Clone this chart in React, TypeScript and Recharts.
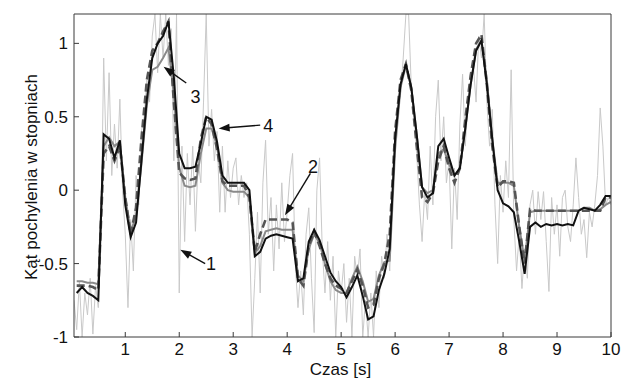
import React from 'react';
import { LineChart, Line, XAxis, YAxis, ReferenceLine, ReferenceDot } from 'recharts';

const xTicks = [1, 2, 3, 4, 5, 6, 7, 8, 9, 10];
const yTicks = [-1, -0.5, 0, 0.5, 1];
const xLabel = 'Czas [s]';
const yLabel = 'Kąt pochylenia w stopniach';

// sample grids (s)
const smoothTimes = Array.from({ length: 100 }, (_, i) => +((i + 1) * 0.1).toFixed(2));
const rawTimes = Array.from({ length: 200 }, (_, i) => +((i + 1) * 0.05).toFixed(2));

// 1 – raw measurement (light grey, noisy)
const raw = [
  -0.75, -0.95, -0.62, -1.0, -0.70, -0.85, -0.60, -0.98, -0.65, -0.80,
  -0.30, 0.90, 0.20, 0.80, 0.10, 0.45, 0.15, 0.62, 0.00, -0.30,
  -0.80, -0.20, -0.55, 0.10, -0.10, 0.40, 0.50, 0.75, 0.60, 1.05,
  1.20, 0.80, 1.20, 0.90, 1.20, 0.85, 1.10, 0.20, 1.20, -0.70,
  0.30, -0.35, 0.25, -0.10, 0.30, -0.28, 0.20, 0.05, 0.60, 1.20,
  0.30, 0.55, 0.20, 0.40, -0.15, 0.30, -0.15, 0.20, -0.05, 0.15,
  0.22, -0.10, 0.10, -0.05, 0.05, -0.30, -1.00, -0.60, -0.15, -0.70,
  0.05, 0.34, -0.30, -0.05, -0.55, -0.10, -0.40, 0.05, -0.35, -0.15,
  0.10, 0.25, -0.50, -0.80, -0.55, -0.85, -0.30, -0.12, -0.60, -0.97,
  0.00, 0.22, -0.40, -0.70, -0.35, -0.75, -0.45, -1.00, -0.55, -0.70,
  -0.50, -0.90, -0.60, -1.00, -0.45, -0.60, -0.40, -1.00, -0.75, -1.00,
  -0.70, -1.00, -0.55, -0.80, -0.45, -0.60, -0.30, -0.55, -0.05, 0.30,
  0.55, 0.65, 0.90, 1.20, 1.20, 0.70, 0.50, 0.25, -0.10, -0.35,
  0.00, -0.20, 0.30, -0.10, 0.50, 0.75, 0.20, 0.50, 0.05, 0.20,
  -0.40, 0.15, -0.20, 0.45, 0.79, 0.30, 0.60, 0.75, 0.85, 0.60,
  1.05, 0.90, 1.20, 0.60, 0.30, 0.55, -0.10, -0.50, 0.10, -0.15,
  0.20, -0.05, 0.82, -0.20, -0.55, -0.30, -0.67, -0.40, -0.60, -0.10,
  0.00, -0.30, -0.01, -0.20, -0.01, -0.35, -0.69, -0.05, -0.30, -0.10,
  -0.45, -0.05, 0.00, -0.25, -0.35, -0.10, 0.22, -0.05, -0.30, -0.20,
  -0.46, -0.15, -0.25, -0.10, 0.10, 0.56, 0.30, -0.10, -0.05, -0.10,
];

// 2 – dashed dark grey
const series2 = [
  -0.65, -0.65, -0.65, -0.66, -0.68, 0.25, 0.30, 0.20, 0.30, -0.05,
  -0.30, -0.12, 0.35, 0.75, 0.95, 1.00, 1.08, 1.15, 0.60, 0.12,
  0.08, 0.07, 0.08, 0.35, 0.50, 0.45, 0.28, 0.06, 0.03, 0.03,
  0.03, 0.03, -0.05, -0.42, -0.30, -0.20, -0.20, -0.20, -0.20, -0.20,
  -0.22, -0.60, -0.65, -0.38, -0.28, -0.38, -0.50, -0.60, -0.65, -0.67,
  -0.70, -0.62, -0.54, -0.65, -0.80, -0.78, -0.60, -0.50, -0.30, 0.40,
  0.75, 0.86, 0.68, 0.30, -0.05, -0.08, -0.02, 0.20, 0.30, 0.15,
  0.05, 0.15, 0.48, 0.78, 1.00, 1.06, 0.72, 0.30, 0.02, 0.06,
  0.06, 0.05, -0.25, -0.50, -0.13, -0.14, -0.14, -0.14, -0.14, -0.14,
  -0.14, -0.14, -0.14, -0.14, -0.14, -0.14, -0.14, -0.14, -0.05, -0.05,
];

// 3 – solid medium grey
const series3 = [
  -0.62, -0.62, -0.63, -0.63, -0.64, 0.30, 0.36, 0.30, 0.33, -0.05,
  -0.28, -0.18, 0.18, 0.58, 0.82, 0.84, 0.90, 0.97, 0.65, 0.15,
  0.03, 0.02, 0.03, 0.25, 0.42, 0.42, 0.30, 0.05, 0.00, -0.01,
  -0.01, -0.01, -0.05, -0.43, -0.38, -0.28, -0.27, -0.26, -0.27, -0.27,
  -0.27, -0.58, -0.62, -0.40, -0.30, -0.36, -0.50, -0.62, -0.68, -0.70,
  -0.70, -0.60, -0.52, -0.62, -0.76, -0.74, -0.58, -0.49, -0.48, 0.28,
  0.70, 0.85, 0.70, 0.38, 0.02, -0.02, 0.00, 0.25, 0.28, 0.18,
  0.10, 0.15, 0.42, 0.72, 0.96, 1.02, 0.75, 0.35, 0.05, 0.05,
  0.05, 0.03, -0.25, -0.48, -0.15, -0.14, -0.14, -0.14, -0.14, -0.14,
  -0.14, -0.14, -0.14, -0.14, -0.12, -0.12, -0.14, -0.13, -0.10, -0.08,
];

// 4 – solid black
const series4 = [
  -0.70, -0.66, -0.70, -0.72, -0.75, 0.38, 0.35, 0.22, 0.34, -0.10,
  -0.32, -0.22, 0.20, 0.62, 0.90, 1.00, 1.05, 1.15, 0.77, 0.25,
  0.15, 0.15, 0.16, 0.32, 0.50, 0.48, 0.33, 0.10, 0.05, 0.05,
  0.05, 0.05, 0.00, -0.45, -0.42, -0.33, -0.31, -0.30, -0.31, -0.32,
  -0.33, -0.62, -0.60, -0.35, -0.27, -0.34, -0.45, -0.56, -0.62, -0.66,
  -0.73, -0.66, -0.58, -0.72, -0.88, -0.86, -0.68, -0.57, -0.40, 0.35,
  0.72, 0.86, 0.70, 0.38, 0.02, -0.05, -0.02, 0.30, 0.35, 0.22,
  0.10, 0.15, 0.42, 0.72, 0.95, 1.02, 0.72, 0.35, 0.00, -0.09,
  -0.11, -0.15, -0.35, -0.57, -0.25, -0.22, -0.25, -0.23, -0.24, -0.23,
  -0.24, -0.23, -0.24, -0.14, -0.12, -0.13, -0.14, -0.10, -0.04, -0.04,
];

// annotation arrows: label, tail (t, value), tip (t, value), label position (t, value)
const annLabels = ['1', '2', '3', '4'];
const annTail = [[2.48, -0.5], [4.43, 0.114], [2.13, 0.73], [3.5, 0.443]];
const annTip = [[2.02, -0.406], [3.96, -0.17], [1.71, 0.84], [2.73, 0.42]];
const annText = [[2.59, -0.504], [4.48, 0.157], [2.3, 0.637], [3.65, 0.436]];

const rows = (times: number[], values: number[]) => times.map((t, i) => ({ t, v: values[i] }));
const rawData = rows(rawTimes, raw);
const data2 = rows(smoothTimes, series2);
const data3 = rows(smoothTimes, series3);
const data4 = rows(smoothTimes, series4);

const FONT = '"Liberation Sans", Arial, Helvetica, sans-serif';
const AXIS = '#3a3a3a';
const tickStyle = { fill: '#111', fontSize: 17, fontFamily: FONT };

const Arrow = (props: any) => {
  const { x1, y1, x2, y2 } = props;
  const dx = x2 - x1;
  const dy = y2 - y1;
  const len = Math.hypot(dx, dy) || 1;
  const ux = dx / len;
  const uy = dy / len;
  const L = 11;
  const W = 4;
  const bx = x2 - ux * L;
  const by = y2 - uy * L;
  const pts = `${x2},${y2} ${bx - uy * W},${by + ux * W} ${bx + uy * W},${by - ux * W}`;
  return (
    <g>
      <line x1={x1} y1={y1} x2={bx + ux * 2} y2={by + uy * 2} stroke="#111" strokeWidth={1.4} />
      <polygon points={pts} fill="#111" />
    </g>
  );
};

const makeText = (label: string) => (props: any) => (
  <text
    x={props.cx}
    y={props.cy}
    textAnchor="middle"
    dominantBaseline="central"
    fontSize={18}
    fontFamily={FONT}
    fill="#111"
  >
    {label}
  </text>
);

export default function App() {
  return (
    <div style={{ position: 'absolute', left: 0, top: 0, width: 630, height: 379, background: '#fff' }}>
      <LineChart width={630} height={379} margin={{ top: 13, right: 18, bottom: 0, left: 0 }}>
        <XAxis
          dataKey="t"
          type="number"
          domain={[0.05, 10]}
          allowDataOverflow
          ticks={xTicks}
          height={42}
          tickSize={-5}
          tickMargin={11}
          tick={tickStyle}
          stroke={AXIS}
          tickLine={{ stroke: AXIS }}
          axisLine={{ stroke: AXIS }}
          label={{
            value: xLabel,
            content: (p: any) => {
              const vb = p.viewBox || { x: 74, width: 537, y: 337, height: 42 };
              return (
                <text
                  x={vb.x + vb.width / 2 - 2}
                  y={vb.y + vb.height - 4}
                  textAnchor="middle"
                  fontSize={17}
                  fontFamily={FONT}
                  fill="#111"
                >
                  {xLabel}
                </text>
              );
            },
          }}
        />
        <XAxis
          xAxisId="top"
          dataKey="t"
          orientation="top"
          type="number"
          domain={[0.05, 10]}
          allowDataOverflow
          ticks={xTicks}
          height={1}
          tickSize={-5}
          tick={false}
          stroke={AXIS}
          tickLine={{ stroke: AXIS }}
          axisLine={{ stroke: AXIS }}
        />
        <YAxis
          type="number"
          domain={[-1, 1.2]}
          allowDataOverflow
          ticks={yTicks}
          width={74}
          tickSize={-5}
          tickMargin={11}
          tick={tickStyle}
          stroke={AXIS}
          tickLine={{ stroke: AXIS }}
          axisLine={{ stroke: AXIS }}
          label={{
            value: yLabel,
            content: () => (
              <text
                x={37}
                y={177}
                transform="rotate(-90 37 177)"
                textAnchor="middle"
                fontSize={17}
                fontFamily={FONT}
                fill="#111"
              >
                {yLabel}
              </text>
            ),
          }}
        />
        <YAxis
          yAxisId="right"
          orientation="right"
          type="number"
          domain={[-1, 1.2]}
          allowDataOverflow
          ticks={yTicks}
          width={1}
          tickSize={-5}
          tick={false}
          stroke={AXIS}
          tickLine={{ stroke: AXIS }}
          axisLine={{ stroke: AXIS }}
        />
        {/* invisible series bound to the frame axes so that they are drawn */}
        <Line data={data4} xAxisId="top" yAxisId="right" dataKey="v" stroke="none" dot={false} activeDot={false} legendType="none" isAnimationActive={false} />
        <Line data={rawData} dataKey="v" type="linear" stroke="#c9c9c9" strokeWidth={1} dot={false} isAnimationActive={false} />
        <Line data={data3} dataKey="v" type="linear" stroke="#8a8a8a" strokeWidth={2} dot={false} isAnimationActive={false} />
        <Line data={data2} dataKey="v" type="linear" stroke="#555" strokeWidth={2.6} strokeDasharray="8 4" dot={false} isAnimationActive={false} />
        <Line data={data4} dataKey="v" type="linear" stroke="#111" strokeWidth={2} dot={false} isAnimationActive={false} />
        {annLabels.map((lab, i) => (
          <ReferenceLine
            key={'a' + lab}
            segment={[
              { x: annTail[i][0], y: annTail[i][1] },
              { x: annTip[i][0], y: annTip[i][1] },
            ]}
            shape={Arrow}
            ifOverflow="visible"
          />
        ))}
        {annLabels.map((lab, i) => (
          <ReferenceDot
            key={'t' + lab}
            x={annText[i][0]}
            y={annText[i][1]}
            r={0}
            shape={makeText(lab)}
            ifOverflow="visible"
          />
        ))}
      </LineChart>
    </div>
  );
}
